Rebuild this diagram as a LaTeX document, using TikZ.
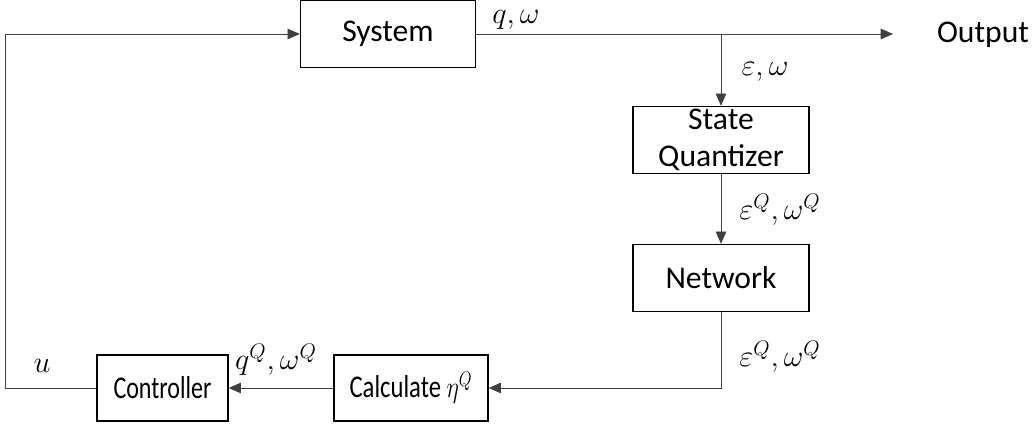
\documentclass[tikz,border=0pt]{standalone}
\usepackage{amssymb,amsmath}
\usepackage{fontspec}
\setmainfont{Carlito}
\usetikzlibrary{arrows.meta}

\begin{document}
\begin{tikzpicture}[font=\fontsize{18pt}{21pt}\selectfont,
  blk/.style={draw, line width=0.75pt, minimum height=1.34cm, align=center, inner sep=0pt},
  sig/.style={-{Triangle[length=7pt,width=6pt]}, line width=0.5pt, black!75},
  lbl/.style={inner sep=1pt}]
\useasboundingbox (0,0) rectangle (20.7,8.5);
\node [blk, minimum width=3.5cm] (sys) at (7.76,7.82) {System};
\node [blk, minimum width=3.52cm] (sq) at (14.42,5.70) {State\\Quantizer};
\node [blk, minimum width=3.52cm] (net) at (14.42,2.94) {Network};
\node [blk, minimum width=3.08cm, minimum height=1.32cm] (calc) at (8.22,0.74) {\scalebox{0.78}[1]{Calculate $\eta^Q$}};
\node [blk, minimum width=2.62cm, minimum height=1.32cm] (ctrl) at (3.25,0.74) {\scalebox{0.76}[1]{Controller}};
\node (outl) at (19.66,7.80) {Output};
\coordinate (br) at (14.42,7.82);
\coordinate (out) at (17.86,7.82);
\coordinate (lft) at (0.1,0.74);
\draw [line width=0.5pt, black!75] (sys.east) -- (br);
\draw [sig] (br) -- (out);
\draw [sig] (br) -- (sq.north);
\draw [sig] (sq) -- (net);
\draw [sig] (net.south) |- (calc.east);
\draw [sig] (calc) -- (ctrl);
\draw [sig] (ctrl.west) -- (lft) |- (sys.west);
\node [lbl] at (10.32,8.10) {$q,\omega$};
\node [lbl] at (15.30,7.06) {$\varepsilon,\omega$};
\node [lbl] at (15.60,4.30) {$\varepsilon^Q,\omega^Q$};
\node [lbl] at (15.60,1.36) {$\varepsilon^Q,\omega^Q$};
\node [lbl] at (5.52,1.30) {$q^Q,\omega^Q$};
\node [lbl] at (0.84,1.18) {$u$};
\end{tikzpicture}
\end{document}
